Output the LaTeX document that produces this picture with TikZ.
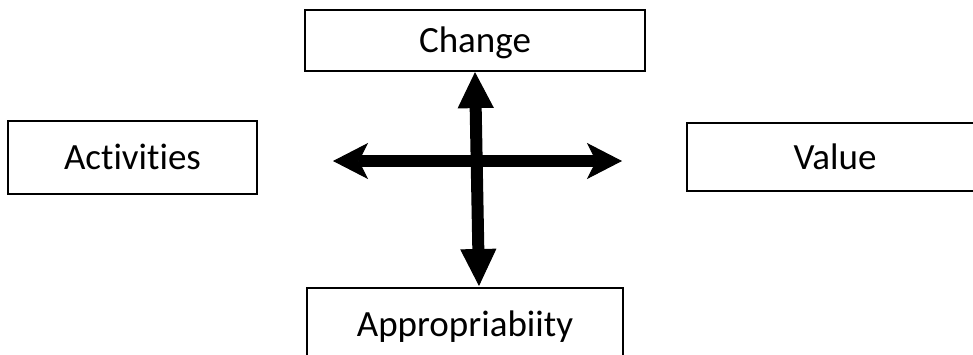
\documentclass[tikz,border=0pt]{standalone}
\usepackage{fontspec}
\setmainfont{Carlito}[Ligatures={NoCommon}]
\usetikzlibrary{arrows.meta}

\begin{document}
\begin{tikzpicture}[x=1pt,y=-1pt]
\tikzstyle{every node}+=[inner sep=0pt]
\tikzstyle{box}=[draw=black, line width=2.2pt, font=\fontsize{37}{40}\selectfont, text height=24pt, text depth=0pt]
\tikzstyle{bigarrow}=[black, line width=12pt]
\useasboundingbox (0,0) rectangle (973,354);
\node [box, minimum width=340pt, minimum height=61pt] (change) at (475,40.5) {Change};
\node [box, minimum width=249pt, minimum height=73pt] (act) at (132.5,157.5) {Activities};
\node [box, minimum width=296pt, minimum height=68pt] (value) at (835,157) {Value};
\node [box, minimum width=316pt, minimum height=73pt] (approp) at (465,324.5) {Appropriabiity};
\coordinate (hl) at (333,161);
\coordinate (hr) at (622,161);
\coordinate (vb) at (479,286);
\draw [bigarrow, {Stealth[length=35pt,width=36pt,inset=9pt,line width=1pt]}-{Stealth[length=35pt,width=36pt,inset=9pt,line width=1pt]}] (hl) -- (hr);
\draw [bigarrow, {Triangle[length=36pt,width=36pt,line width=1pt]}-{Triangle[length=37pt,width=36pt,line width=1pt]}] (change.south) -- (vb);
\end{tikzpicture}
\end{document}
